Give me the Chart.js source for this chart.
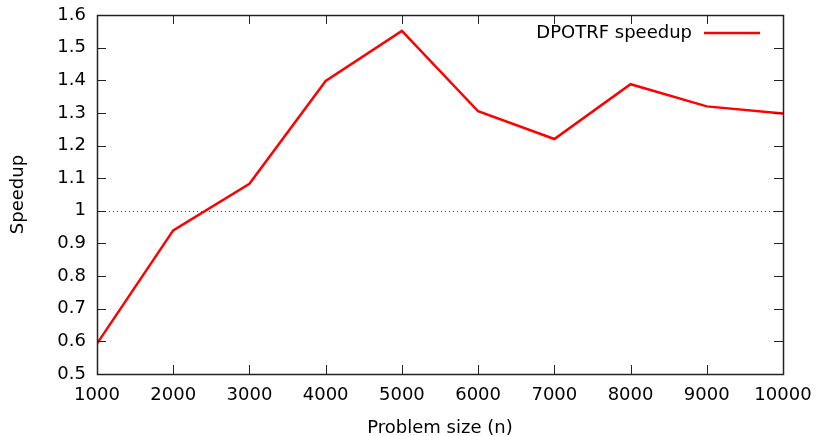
<!DOCTYPE html>
<html>
<head>
<meta charset="utf-8">
<script src="https://cdn.jsdelivr.net/npm/chart.js@4"></script>
<style>
  html, body { margin: 0; padding: 0; background: #fff; }
  #wrap { width: 816px; height: 436px; }
</style>
</head>
<body>
<div id="wrap"><canvas id="chart" width="816" height="436"></canvas></div>
<script>
// problem sizes and measured speedup
const sizes = [1000, 2000, 3000, 4000, 5000, 6000, 7000, 8000, 9000, 10000];
const speedup = [0.593, 0.940, 1.083, 1.398, 1.551, 1.305, 1.220, 1.388, 1.320, 1.298];
const seriesLabel = 'DPOTRF speedup';
const xTitle = 'Problem size (n)';
const yTitle = 'Speedup';
const baseline = 1;

const FONT = '"DejaVu Sans", sans-serif';
const FS = 18;

// gnuplot-ish frame: border box, inward ticks mirrored, dotted line at 1, legend
const framePlugin = {
    id: 'frame',
    afterDatasetsDraw(chart) {
        const { ctx, chartArea: a, scales } = chart;
        const tl = 9;
        ctx.save();
        // dotted reference line
        const yb = Math.round(scales.y.getPixelForValue(baseline)) + 0.5;
        ctx.strokeStyle = '#444';
        ctx.lineWidth = 1;
        ctx.setLineDash([1, 3]);
        ctx.beginPath();
        ctx.moveTo(a.left, yb);
        ctx.lineTo(a.right, yb);
        ctx.stroke();
        ctx.setLineDash([]);

        ctx.strokeStyle = '#222';
        ctx.lineWidth = 1;
        ctx.beginPath();
        scales.x.ticks.forEach(t => {
            const px = Math.round(scales.x.getPixelForValue(t.value)) + 0.5;
            ctx.moveTo(px, a.bottom); ctx.lineTo(px, a.bottom - tl);
            ctx.moveTo(px, a.top); ctx.lineTo(px, a.top + tl);
        });
        scales.y.ticks.forEach(t => {
            const py = Math.round(scales.y.getPixelForValue(t.value)) + 0.5;
            ctx.moveTo(a.left, py); ctx.lineTo(a.left + tl, py);
            ctx.moveTo(a.right, py); ctx.lineTo(a.right - tl, py);
        });
        ctx.stroke();

        ctx.lineWidth = 1.5;
        ctx.strokeRect(Math.round(a.left) + 0.5, Math.round(a.top) + 0.5,
            Math.round(a.right - a.left), Math.round(a.bottom - a.top));

        // legend, text then line sample
        const ly = a.top + 18;
        ctx.font = FS + 'px ' + FONT;
        ctx.fillStyle = '#000';
        ctx.textAlign = 'right';
        ctx.textBaseline = 'middle';
        ctx.fillText(seriesLabel, a.right - 91, ly);
        ctx.strokeStyle = '#ff0000';
        ctx.lineWidth = 2.5;
        ctx.beginPath();
        ctx.moveTo(a.right - 79, ly);
        ctx.lineTo(a.right - 23, ly);
        ctx.stroke();
        ctx.restore();
    }
};

new Chart(document.getElementById('chart'), {
    type: 'line',
    data: {
        datasets: [{
            label: seriesLabel,
            data: sizes.map((s, i) => ({ x: s, y: speedup[i] })),
            borderColor: '#ff0000',
            borderWidth: 2.5,
            pointRadius: 0,
            tension: 0,
            fill: false
        }]
    },
    options: {
        responsive: false,
        animation: false,
        layout: { padding: { top: 15, right: 33, left: 0, bottom: 0 } },
        plugins: {
            legend: { display: false },
            tooltip: { enabled: false }
        },
        scales: {
            x: {
                type: 'linear',
                min: 1000,
                max: 10000,
                grid: { display: false, drawTicks: false },
                border: { display: false },
                ticks: {
                    stepSize: 1000,
                    padding: 11,
                    color: '#000',
                    font: { family: FONT, size: FS },
                    maxRotation: 0,
                    callback: v => String(v)
                },
                title: {
                    display: true,
                    text: xTitle,
                    color: '#000',
                    font: { family: FONT, size: FS },
                    padding: { top: 4, bottom: -3 }
                },
                afterFit: s => {
                    s.height = 62;
                    s.paddingLeft = 0;
                    s.paddingRight = 0;
                }
            },
            y: {
                min: 0.5,
                max: 1.6,
                grid: { display: false, drawTicks: false },
                border: { display: false },
                ticks: {
                    stepSize: 0.1,
                    padding: 11,
                    color: '#000',
                    font: { family: FONT, size: FS },
                    callback: v => String(+v.toFixed(1))
                },
                title: {
                    display: true,
                    text: yTitle,
                    color: '#000',
                    font: { family: FONT, size: FS },
                    padding: { top: 8, bottom: 0 }
                },
                afterFit: s => {
                    s.width = 97;
                    s.paddingTop = 0;
                    s.paddingBottom = 0;
                }
            }
        }
    },
    plugins: [framePlugin]
});
</script>
</body>
</html>
